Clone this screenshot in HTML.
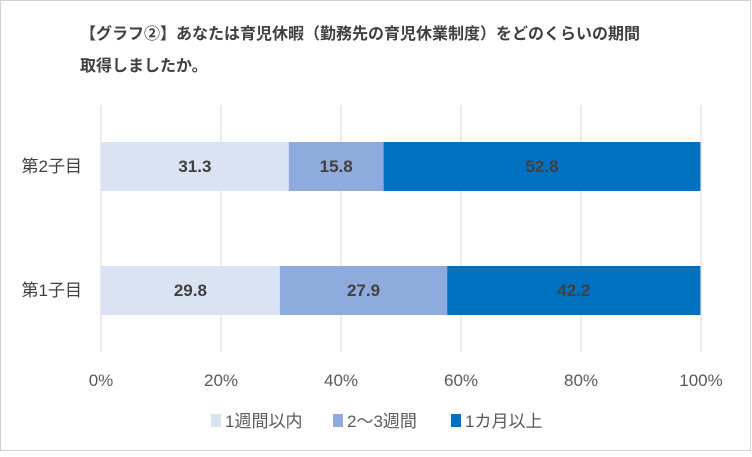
<!DOCTYPE html>
<html><head><meta charset="utf-8"><style>
body{margin:0;background:#fff}
svg text{font-family:"Liberation Sans","Noto Sans CJK JP",sans-serif}
</style></head><body>
<svg width="752" height="452" viewBox="0 0 752 452">
<rect x="0.5" y="0.5" width="750" height="450" fill="#fff" stroke="#d0d0d0"/>
<text x="80" y="39" font-size="16" font-weight="bold" fill="#404040">【グラフ②】あなたは育児休暇（勤務先の育児休業制度）をどのくらいの期間</text>
<text x="80" y="71" font-size="16" font-weight="bold" fill="#404040">取得しましたか。</text>
<g id="grid"></g><g id="bars"></g><g id="labels"></g><g id="legend"></g>
</svg>
<script>
const categories=["第2子目","第1子目"];
const s1=[31.3,29.8];
const s2=[15.8,27.9];
const s3=[52.8,42.2];
const ticks=[0,20,40,60,80,100];
const seriesNames=["1週間以内","2～3週間","1カ月以上"];
const colors=["#dae3f3","#8faadc","#0070c0"];
const NS="http://www.w3.org/2000/svg";
const x=v=>101+v*6;
const yc=[166,290];
function mk(t,a,p){const e=document.createElementNS(NS,t);for(const k in a)e.setAttribute(k,a[k]);p.appendChild(e);return e;}
const grid=document.getElementById('grid'),bars=document.getElementById('bars'),labels=document.getElementById('labels'),legend=document.getElementById('legend');
ticks.forEach(t=>{
 const l=mk('line',{x1:x(t),x2:x(t),y1:105,y2:352,stroke:'#d9d9d9','stroke-width':1},grid);
 
 
 const tx=mk('text',{x:x(t),y:386,'font-size':17,fill:'#595959','text-anchor':'middle'},grid);
 tx.textContent=t+'%';
 
 
});
const series=[s1,s2,s3];
categories.forEach((c,i)=>{
 const cl=mk('text',{x:82,y:yc[i]+6,'font-size':17,fill:'#404040','text-anchor':'end'},labels);
 cl.textContent=c;
 
 
 let acc=0;
 series.forEach((s,j)=>{
  const v=s[i];
  const r=mk('rect',{x:x(acc),y:yc[i]-24,width:v*6,height:49,fill:colors[j]},bars);
  
  
  const vt=mk('text',{x:x(acc+v/2),y:yc[i]+6,'font-size':17,'font-weight':'bold',fill:'#404040','text-anchor':'middle'},labels);
  vt.textContent=v.toFixed(1);
  
  
  acc+=v;
 });
});
const lx=[211,333,451];
seriesNames.forEach((n,j)=>{
 const r=mk('rect',{x:lx[j],y:414,width:10,height:13,fill:colors[j]},legend);
 
 
 const t=mk('text',{x:lx[j]+14,y:427,'font-size':17,fill:'#595959'},legend);
 t.textContent=n;
 
 
});
</script>
</body></html>
